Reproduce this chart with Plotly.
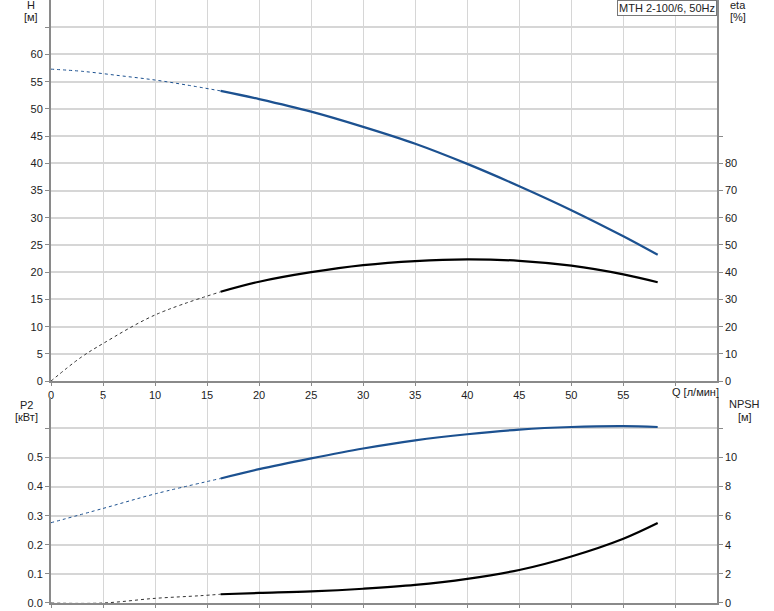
import plotly.graph_objects as go

# ---------------- data ----------------
q_dot_h = [0, 3, 6.6, 10, 13, 16.3]
h_dot = [57.3, 56.9, 56.1, 55.3, 54.4, 53.3]

q_dot_eta = [0, 2.8, 5, 10, 16.3]
eta_dot = [0, 8.5, 13.8, 24.3, 32.8]

q_dot_p2 = [0, 5, 10, 16.3]
p2_dot = [0.276, 0.325, 0.375, 0.428]

q_dot_npsh = [0, 5, 10, 14.3, 16.3]
npsh_dot = [0, 0, 0.32, 0.5, 0.6]

q_solid = [16.3, 20, 25, 30, 35, 40, 45, 50, 55, 58.3]
h_solid = [53.3, 51.8, 49.5, 46.7, 43.6, 39.9, 35.8, 31.4, 26.6, 23.2]
eta_solid = [32.8, 36.5, 40.0, 42.6, 44.1, 44.7, 44.2, 42.4, 39.2, 36.3]
p2_solid = [0.428, 0.460, 0.497, 0.531, 0.559, 0.580, 0.596, 0.605, 0.608, 0.605]
npsh_solid = [0.6, 0.69, 0.80, 0.98, 1.24, 1.66, 2.27, 3.2, 4.42, 5.5]

x_ticks = [0, 5, 10, 15, 20, 25, 30, 35, 40, 45, 50, 55, 60]
x_ticktext = ["0", "5", "10", "15", "20", "25", "30", "35", "40", "45", "50", "55", ""]
h_ticks = [0, 5, 10, 15, 20, 25, 30, 35, 40, 45, 50, 55, 60, 65]
h_ticktext = ["0", "5", "10", "15", "20", "25", "30", "35", "40", "45", "50", "55", "60", ""]
eta_ticks = [0, 10, 20, 30, 40, 50, 60, 70, 80, 90]
eta_ticktext = ["0", "10", "20", "30", "40", "50", "60", "70", "80", ""]
p2_ticks = [0.0, 0.1, 0.2, 0.3, 0.4, 0.5, 0.6]
p2_ticktext = ["0.0", "0.1", "0.2", "0.3", "0.4", "0.5", ""]
npsh_ticks = [0, 2, 4, 6, 8, 10, 12]
npsh_ticktext = ["0", "2", "4", "6", "8", "10", ""]

title_text = "MTH 2-100/6, 50Hz"

# ---------------- style ----------------
BLUE = "#1c5190"
BLACK = "#000000"
GRID = "#d6d6d6"
AXIS = "#8a8a8a"
TXT = "#222222"
FONT = "Liberation Sans, Arial, sans-serif"

fig = go.Figure()

def add(x, y, xa, ya, color, solid):
    fig.add_trace(go.Scatter(
        x=x, y=y, xaxis=xa, yaxis=ya, mode="lines",
        line=dict(color=color, width=2.2 if solid else 1,
                  dash="solid" if solid else "dot", shape="spline", smoothing=1.0),
        hoverinfo="skip", showlegend=False))

add(q_dot_h, h_dot, "x", "y", BLUE, False)
add(q_solid, h_solid, "x", "y", BLUE, True)
add(q_dot_eta, eta_dot, "x", "y2", "#333333", False)
add(q_solid, eta_solid, "x", "y2", BLACK, True)
add(q_dot_p2, p2_dot, "x2", "y3", BLUE, False)
add(q_solid, p2_solid, "x2", "y3", BLUE, True)
add(q_dot_npsh, npsh_dot, "x2", "y4", "#333333", False)
add(q_solid, npsh_solid, "x2", "y4", BLACK, True)

tickfont = dict(family=FONT, size=11, color=TXT)
XR = [0, 64.0]

common_x = dict(range=XR, tickmode="array", tickvals=x_ticks, showgrid=True,
                gridcolor=GRID, gridwidth=1, zeroline=False, showline=True,
                linecolor=AXIS, linewidth=2, ticks="outside", ticklen=3,
                tickcolor=AXIS, tickfont=tickfont)

fig.update_layout(
    width=774, height=611,
    margin=dict(l=51, r=57, t=0, b=8),
    paper_bgcolor="white", plot_bgcolor="white",
    font=dict(family=FONT, size=11, color=TXT),
    xaxis=dict(**common_x, anchor="y", domain=[0, 1], ticktext=x_ticktext),
    xaxis2=dict(**common_x, anchor="y3", domain=[0, 1], ticktext=[""] * len(x_ticks),
                showticklabels=False),
    yaxis=dict(domain=[0.368, 1], range=[0, 70], tickmode="array", tickvals=h_ticks,
               ticktext=h_ticktext, showgrid=True, gridcolor=GRID, gridwidth=1.5,
               zeroline=False, showline=True, linecolor=AXIS, linewidth=2,
               ticks="outside", ticklen=4, tickcolor=AXIS, tickfont=tickfont, anchor="x"),
    yaxis2=dict(overlaying="y", side="right", range=[0, 140], tickmode="array",
                tickvals=eta_ticks, ticktext=eta_ticktext, showgrid=False,
                zeroline=False, showline=True, linecolor=AXIS, linewidth=1.5,
                ticks="outside", ticklen=4, tickcolor=AXIS, tickfont=tickfont, anchor="x"),
    yaxis3=dict(domain=[0, 0.3416], range=[0, 0.708], tickmode="array", tickvals=p2_ticks,
                ticktext=p2_ticktext, showgrid=True, gridcolor=GRID, gridwidth=1.5,
                zeroline=False, showline=True, linecolor=AXIS, linewidth=2,
                ticks="outside", ticklen=4, tickcolor=AXIS, tickfont=tickfont, anchor="x2"),
    yaxis4=dict(overlaying="y3", side="right", range=[0, 14.16], tickmode="array",
                tickvals=npsh_ticks, ticktext=npsh_ticktext, showgrid=False,
                zeroline=False, showline=True, linecolor=AXIS, linewidth=1.5,
                ticks="outside", ticklen=4, tickcolor=AXIS, tickfont=tickfont, anchor="x2"),
)

def lab(text, x, y):
    fig.add_annotation(text=text, x=x, y=y, xref="paper", yref="paper",
                       showarrow=False, xanchor="center", yanchor="middle",
                       font=dict(family=FONT, size=11, color=TXT))

lab("H", -0.0305, 0.9917)
lab("[м]", -0.030, 0.9718)
lab("eta", 1.0315, 0.9917)
lab("[%]", 1.0315, 0.9718)
lab("P2", -0.0375, 0.3284)
lab("[кВт]", -0.0375, 0.3085)
lab("NPSH", 1.042, 0.330)
lab("[м]", 1.042, 0.3085)

fig.add_annotation(text="Q [л/мин]", x=60, xref="x", y=0.3504, yref="paper",
                   showarrow=False, xanchor="left", yanchor="middle", xshift=-5,
                   font=dict(family=FONT, size=11, color=TXT))

fig.add_annotation(text=title_text, x=1, y=1, xref="paper", yref="paper",
                   showarrow=False, xanchor="right", yanchor="top",
                   bgcolor="white", bordercolor="#777777", borderwidth=1, borderpad=1,
                   font=dict(family=FONT, size=11, color=TXT))

fig.write_html("out.html", config={"displayModeBar": False},
               post_script="document.body.style.margin='0px';document.body.style.overflow='hidden';")
